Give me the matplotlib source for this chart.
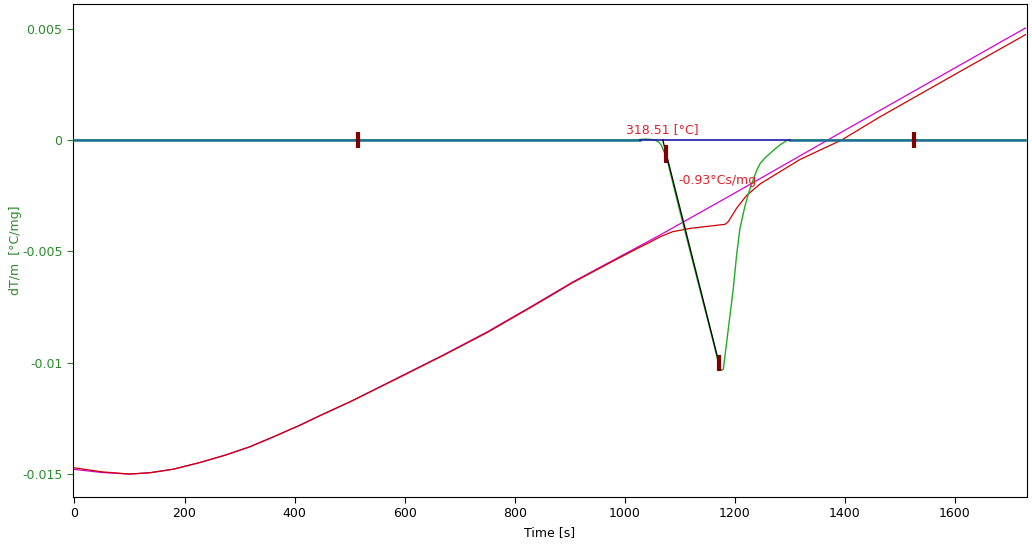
import matplotlib
matplotlib.use("Agg")
import matplotlib.pyplot as plt

# ---- data ----
mag_t = [0, 50, 100, 137, 180, 228, 274, 319, 365, 410, 455, 501, 591, 670, 750,
         830, 906, 985, 1064, 1200, 1400, 1600, 1728]
mag_v = [-0.01480, -0.01494, -0.01501, -0.01495, -0.01479, -0.01449, -0.01416,
         -0.01378, -0.01330, -0.01281, -0.01228, -0.01176, -0.01064, -0.00966,
         -0.00862, -0.00748, -0.00637, -0.00532, -0.00427, -0.00238, 0.00044,
         0.00324, 0.00503]

red_t = [0, 50, 100, 137, 180, 228, 274, 319, 365, 410, 455, 501, 591, 670, 750,
         830, 906, 985, 1027, 1045, 1064, 1087, 1119, 1150, 1182, 1188, 1203, 1221,
         1246, 1318, 1394, 1463, 1600, 1728]
red_v = [-0.01473, -0.01491, -0.01501, -0.01495, -0.01479, -0.01449, -0.01416,
         -0.01378, -0.01330, -0.01281, -0.01228, -0.01176, -0.01066, -0.00968,
         -0.00865, -0.00751, -0.00640, -0.00536, -0.00482, -0.00460, -0.00435,
         -0.00412, -0.00397, -0.00388, -0.00379, -0.00367, -0.00307, -0.00250,
         -0.00197, -0.00088, 0.0, 0.00103, 0.00295, 0.00473]

dta_t = [0, 1020, 1030, 1040, 1050, 1056, 1062, 1066, 1070, 1076, 1100, 1130, 1160,
         1168, 1173, 1176, 1179, 1182, 1188, 1197, 1203, 1209, 1218, 1226, 1233,
         1240, 1246, 1255, 1264, 1273, 1282, 1294, 1300, 1728]
dta_v = [0.0, 0.0, 0.00003, 0.00004, 0.00002, -0.00002, -0.00010, -0.00022, -0.00045,
         -0.0008, -0.0032, -0.0061, -0.0090, -0.0098, -0.01025, -0.01035, -0.0103,
         -0.0097, -0.0085, -0.0067, -0.0052, -0.0040, -0.0030, -0.0023, -0.0018,
         -0.00135, -0.00105, -0.0008, -0.0006, -0.0004, -0.00022, -0.00003, 0.0, 0.0]

zero_teal_segments = [(0, 1027), (1300, 1728)]
zero_navy_segment = (1027, 1300)

tangent_t = [1069, 1171]
tangent_v = [0.0, -0.0100]

marker_t = [515, 1525, 1075, 1171]
marker_lo = [-0.00036, -0.00036, -0.00103, -0.01038]
marker_hi = [0.00036, 0.00036, -0.00022, -0.00966]

ann_texts = ["318.51 [°C]", "-0.93°Cs/mg"]
ann_t = [1002, 1097]
ann_v = [0.00045, -0.00184]

yticks = [0.005, 0.0, -0.005, -0.01, -0.015]
ytick_labels = ["0.005", "0", "-0.005", "-0.01", "-0.015"]
xticks = [0, 200, 400, 600, 800, 1000, 1200, 1400, 1600]

GREEN_TXT = "#2a8a2a"

fig = plt.figure(figsize=(10.32, 5.44), dpi=100)
ax = fig.add_axes([73 / 1032, 1 - 497 / 544, (1027 - 73) / 1032, (497 - 4) / 544])

ax.plot(mag_t, mag_v, color="#d400d4", lw=0.9, zorder=2)
ax.plot(red_t, red_v, color="#cc0000", lw=0.9, zorder=3)
ax.plot(dta_t, dta_v, color="#22aa22", lw=1.0, zorder=4)
for a, b in zero_teal_segments:
    ax.plot([a, b], [0, 0], color="#1b6d96", lw=1.8, zorder=5)
ax.plot(list(zero_navy_segment), [0, 0], color="#1a1aa8", lw=1.2, zorder=5)
ax.plot(tangent_t, tangent_v, color="black", lw=0.9, zorder=6)
ax.vlines(marker_t, marker_lo, marker_hi, colors="#800000", lw=3, zorder=7)

for s, t, v in zip(ann_texts, ann_t, ann_v):
    ax.text(t, v, s, color="#e0202a", fontsize=9, va="center", ha="left", zorder=8)

ax.set_xlim(-2.7, 1730.8)
ax.set_ylim(-0.01604, 0.00611)
ax.set_yticks(yticks)
ax.set_yticklabels(ytick_labels)
ax.set_xticks(xticks)
ax.tick_params(axis="y", colors=GREEN_TXT, labelsize=9, length=4, width=0.8)
ax.tick_params(axis="x", colors="black", labelsize=9, length=4, width=0.8)
for sp in ax.spines.values():
    sp.set_color("black")
    sp.set_linewidth(0.8)

ax.set_xlabel("Time [s]", fontsize=9, color="black", labelpad=4)
ax.set_ylabel("dT/m  [°C/mg]", fontsize=9, color=GREEN_TXT)
ax.yaxis.set_label_coords(-0.0535, 0.5)

fig.savefig("out.png", dpi=100)
